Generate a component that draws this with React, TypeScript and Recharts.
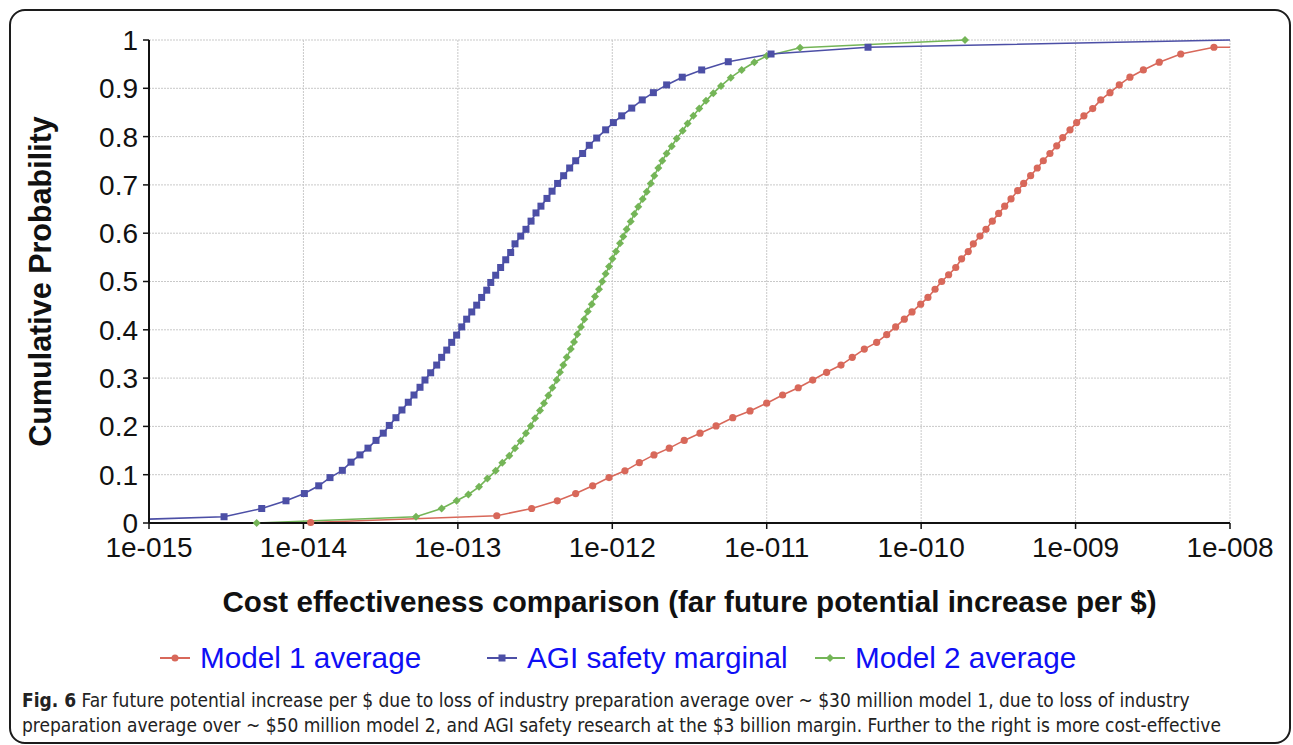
import React from 'react';
import { LineChart, Line, XAxis, YAxis, CartesianGrid, Legend } from 'recharts';

// ---- data (x stored as log10 of cost effectiveness, y = cumulative probability) ----
const MODEL1_EXP = [-15, -13.953, -12.748, -12.522, -12.356, -12.237, -12.127, -12.021, -11.918, -11.825,
  -11.730, -11.631, -11.534, -11.432, -11.328, -11.220, -11.108, -11.000, -10.897, -10.796,
  -10.702, -10.612, -10.519, -10.446, -10.368, -10.288, -10.223, -10.165, -10.109, -10.059,
  -10.003, -9.956, -9.910, -9.867, -9.822, -9.776, -9.738, -9.695, -9.662, -9.619,
  -9.580, -9.539, -9.498, -9.459, -9.418, -9.375, -9.336, -9.291, -9.248, -9.209,
  -9.166, -9.122, -9.083, -9.036, -8.993, -8.946, -8.889, -8.837, -8.777, -8.717,
  -8.648, -8.561, -8.458, -8.319, -8.104, -8.0];
const MODEL1_P = [0.0, 0.001, 0.015, 0.030, 0.046, 0.061, 0.077, 0.094, 0.108, 0.125,
  0.141, 0.155, 0.171, 0.186, 0.201, 0.218, 0.232, 0.248, 0.265, 0.280,
  0.296, 0.312, 0.327, 0.343, 0.360, 0.374, 0.390, 0.406, 0.422, 0.437,
  0.453, 0.467, 0.484, 0.500, 0.514, 0.529, 0.547, 0.562, 0.578, 0.594,
  0.608, 0.625, 0.641, 0.656, 0.671, 0.688, 0.703, 0.719, 0.735, 0.750,
  0.765, 0.781, 0.798, 0.814, 0.829, 0.843, 0.858, 0.876, 0.891, 0.907,
  0.923, 0.938, 0.954, 0.971, 0.985, 0.985];

const AGI_EXP = [-15, -14.514, -14.270, -14.113, -13.994, -13.901, -13.828, -13.748, -13.692, -13.634,
  -13.582, -13.530, -13.483, -13.444, -13.401, -13.362, -13.321, -13.284, -13.245, -13.213,
  -13.176, -13.137, -13.105, -13.072, -13.040, -13.008, -12.975, -12.943, -12.910, -12.878,
  -12.846, -12.813, -12.787, -12.755, -12.723, -12.690, -12.658, -12.630, -12.593, -12.559,
  -12.526, -12.494, -12.462, -12.423, -12.390, -12.354, -12.315, -12.276, -12.237, -12.192,
  -12.149, -12.101, -12.043, -11.993, -11.939, -11.874, -11.806, -11.734, -11.648, -11.547,
  -11.421, -11.249, -10.972, -10.344, -8.0];
const AGI_P = [0.008, 0.013, 0.030, 0.046, 0.061, 0.077, 0.094, 0.109, 0.126, 0.141,
  0.155, 0.171, 0.186, 0.202, 0.218, 0.234, 0.250, 0.265, 0.281, 0.296,
  0.311, 0.327, 0.343, 0.358, 0.374, 0.389, 0.406, 0.422, 0.437, 0.451,
  0.467, 0.482, 0.498, 0.513, 0.529, 0.545, 0.560, 0.578, 0.594, 0.608,
  0.625, 0.642, 0.656, 0.672, 0.687, 0.703, 0.719, 0.735, 0.750, 0.765,
  0.782, 0.797, 0.814, 0.829, 0.843, 0.859, 0.876, 0.891, 0.907, 0.923,
  0.938, 0.955, 0.971, 0.985, 1.0];

const MODEL2_EXP = [-14.303, -13.271, -13.105, -13.008, -12.932, -12.863, -12.809, -12.755, -12.712, -12.667,
  -12.630, -12.593, -12.559, -12.528, -12.500, -12.468, -12.442, -12.414, -12.388, -12.360,
  -12.339, -12.317, -12.295, -12.269, -12.248, -12.227, -12.203, -12.181, -12.159, -12.133,
  -12.112, -12.086, -12.065, -12.043, -12.021, -11.999, -11.976, -11.950, -11.929, -11.907,
  -11.881, -11.857, -11.832, -11.803, -11.777, -11.751, -11.728, -11.702, -11.676, -11.648,
  -11.615, -11.583, -11.544, -11.512, -11.475, -11.437, -11.393, -11.346, -11.296, -11.233,
  -11.162, -11.080, -11.000, -10.784, -9.716];
const MODEL2_P = [0.0, 0.013, 0.030, 0.046, 0.059, 0.075, 0.092, 0.108, 0.125, 0.139,
  0.155, 0.170, 0.186, 0.201, 0.217, 0.233, 0.248, 0.264, 0.280, 0.296,
  0.312, 0.327, 0.343, 0.360, 0.375, 0.391, 0.406, 0.422, 0.438, 0.453,
  0.469, 0.484, 0.500, 0.516, 0.531, 0.547, 0.562, 0.579, 0.593, 0.608,
  0.624, 0.640, 0.655, 0.671, 0.686, 0.703, 0.719, 0.735, 0.750, 0.765,
  0.780, 0.796, 0.812, 0.827, 0.843, 0.858, 0.874, 0.890, 0.905, 0.922,
  0.938, 0.954, 0.967, 0.984, 1.0];

const X_TICK_EXP = [-15, -14, -13, -12, -11, -10, -9, -8];
const X_TICK_LABELS = ['1e-015', '1e-014', '1e-013', '1e-012', '1e-011', '1e-010', '1e-009', '1e-008'];
const Y_TICK_LABELS = ['0', '0.1', '0.2', '0.3', '0.4', '0.5', '0.6', '0.7', '0.8', '0.9', '1'];

const SERIES_NAMES = ['Model 1 average', 'AGI safety marginal', 'Model 2 average'];

const X_MIN = Math.pow(10, X_TICK_EXP[0]);
const X_MAX = Math.pow(10, X_TICK_EXP[X_TICK_EXP.length - 1]);

const build = (exps: number[], ps: number[]) => exps.map((e, i) => ({ x: Math.pow(10, e), e, y: ps[i] }));
const model1Data = build(MODEL1_EXP, MODEL1_P);
const agiData = build(AGI_EXP, AGI_P);
const model2Data = build(MODEL2_EXP, MODEL2_P);

const xTicks = X_TICK_EXP.map((e) => Math.pow(10, e));
const yTicks = Y_TICK_LABELS.map((s) => parseFloat(s));

const RED = '#d8685a';
const BLUE = '#4c4fa6';
const GREEN = '#74b557';
const FONT = '"Liberation Sans", Arial, Helvetica, sans-serif';

const atEdge = (p: any) => p && (p.e <= X_TICK_EXP[0] + 1e-6 || p.e >= X_TICK_EXP[X_TICK_EXP.length - 1] - 1e-6);

const circleDot = (props: any) => {
  const { cx, cy, payload, index } = props;
  if (cx == null || cy == null || atEdge(payload)) return <g key={`c${index}`} />;
  return <circle key={`c${index}`} cx={cx} cy={cy} r={3.6} fill={RED} />;
};
const squareDot = (props: any) => {
  const { cx, cy, payload, index } = props;
  if (cx == null || cy == null || atEdge(payload)) return <g key={`s${index}`} />;
  return <rect key={`s${index}`} x={cx - 3.5} y={cy - 3.5} width={7} height={7} fill={BLUE} />;
};
const diamondDot = (props: any) => {
  const { cx, cy, payload, index } = props;
  if (cx == null || cy == null || atEdge(payload)) return <g key={`d${index}`} />;
  const r = 4;
  return (
    <polygon
      key={`d${index}`}
      points={`${cx},${cy - r} ${cx + r},${cy} ${cx},${cy + r} ${cx - r},${cy}`}
      fill={GREEN}
    />
  );
};

const YTitle = (props: any) => {
  const vb = props.viewBox || { x: 0, y: 40, width: 149, height: 483 };
  const cx = vb.x + 40;
  const cy = vb.y + vb.height / 2;
  return (
    <text
      x={cx}
      y={cy}
      transform={`rotate(-90 ${cx} ${cy})`}
      textAnchor="middle"
      dominantBaseline="central"
      fontFamily={FONT}
      fontWeight="bold"
      fontSize={30.5}
      fill="#111"
    >
      Cumulative Probability
    </text>
  );
};

const XTitle = (props: any) => {
  const vb = props.viewBox || { x: 149, y: 523, width: 1081, height: 110 };
  const cx = vb.x + vb.width / 2;
  const cy = vb.y + 78;
  return (
    <text
      x={cx}
      y={cy}
      textAnchor="middle"
      dominantBaseline="central"
      fontFamily={FONT}
      fontWeight="bold"
      fontSize={29.6}
      fill="#111"
    >
      Cost effectiveness comparison (far future potential increase per $)
    </text>
  );
};

const LEGEND_LEFTS = [160, 487, 815];
const LEGEND_COLORS = [RED, BLUE, GREEN];

const LegendIcon = ({ i }: { i: number }) => {
  const c = LEGEND_COLORS[i];
  return (
    <svg width={30} height={14} style={{ display: 'block' }}>
      <line x1={0} y1={7} x2={30} y2={7} stroke={c} strokeWidth={2} />
      {i === 0 && <circle cx={15} cy={7} r={3.5} fill={c} />}
      {i === 1 && <rect x={11.5} y={3.5} width={7} height={7} fill={c} />}
      {i === 2 && <polygon points="15,3 19,7 15,11 11,7" fill={c} />}
    </svg>
  );
};

const renderLegend = () => (
  <div style={{ position: 'relative', width: 1293, height: 40 }}>
    {SERIES_NAMES.map((name, i) => (
      <div
        key={name}
        style={{
          position: 'absolute',
          left: LEGEND_LEFTS[i],
          top: 0,
          height: 40,
          display: 'flex',
          alignItems: 'center',
        }}
      >
        <LegendIcon i={i} />
        <span style={{ marginLeft: 10, fontFamily: FONT, fontSize: 29.7, color: '#0f0ff5', whiteSpace: 'nowrap' }}>
          {name}
        </span>
      </div>
    ))}
  </div>
);

const xLabel = (v: number) => {
  const e = Math.round(Math.log10(v));
  const idx = X_TICK_EXP.indexOf(e);
  return idx >= 0 ? X_TICK_LABELS[idx] : '';
};
const yLabel = (v: number) => {
  const idx = yTicks.findIndex((t) => Math.abs(t - v) < 1e-9);
  return idx >= 0 ? Y_TICK_LABELS[idx] : '';
};

export default function App() {
  return (
    <div style={{ position: 'absolute', left: 0, top: 0, width: 1293, height: 745, background: '#fff', fontFamily: FONT, overflow: 'hidden' }}>
      <div
        style={{
          position: 'absolute',
          left: 9,
          top: 9,
          width: 1282,
          height: 735,
          border: '2px solid #1c1c1c',
          borderRadius: 16,
          boxSizing: 'border-box',
        }}
      />
      <div style={{ position: 'absolute', left: 0, top: 0 }}>
        <LineChart width={1293} height={745} margin={{ top: 40, right: 63, bottom: 112, left: 0 }}>
          <CartesianGrid stroke="#c9c9c9" strokeDasharray="2 1" strokeWidth={1} />
          <XAxis
            type="number"
            dataKey="x"
            scale="log"
            domain={[X_MIN, X_MAX]}
            ticks={xTicks}
            allowDataOverflow
            interval={0}
            tickFormatter={xLabel}
            tick={{ fontSize: 28, fill: '#111', fontFamily: FONT }}
            tickSize={6}
            tickMargin={8}
            axisLine={{ stroke: '#111', strokeWidth: 2 }}
            tickLine={{ stroke: '#111', strokeWidth: 1.5 }}
            height={110}
            label={<XTitle />}
          />
          <YAxis
            type="number"
            domain={[0, 1]}
            ticks={yTicks}
            interval={0}
            tickFormatter={yLabel}
            tick={{ fontSize: 28, fill: '#111', fontFamily: FONT }}
            tickSize={6}
            tickMargin={5}
            axisLine={{ stroke: '#111', strokeWidth: 2 }}
            tickLine={{ stroke: '#111', strokeWidth: 1.5 }}
            width={149}
            label={<YTitle />}
          />
          <Legend
            verticalAlign="middle"
            align="center"
            layout="horizontal"
            content={renderLegend}
            wrapperStyle={{ position: 'absolute', top: 638, left: 0, width: 1293, height: 40 }}
          />
          <Line
            name={SERIES_NAMES[0]}
            data={model1Data}
            dataKey="y"
            type="linear"
            stroke={RED}
            strokeWidth={1.6}
            dot={circleDot}
            activeDot={false}
            isAnimationActive={false}
          />
          <Line
            name={SERIES_NAMES[2]}
            data={model2Data}
            dataKey="y"
            type="linear"
            stroke={GREEN}
            strokeWidth={1.6}
            dot={diamondDot}
            activeDot={false}
            isAnimationActive={false}
          />
          <Line
            name={SERIES_NAMES[1]}
            data={agiData}
            dataKey="y"
            type="linear"
            stroke={BLUE}
            strokeWidth={1.6}
            dot={squareDot}
            activeDot={false}
            isAnimationActive={false}
          />
        </LineChart>
      </div>
      <div
        style={{
          position: 'absolute',
          left: 22,
          top: 688,
          width: 1260,
          fontFamily: '"DejaVu Sans Condensed", "Liberation Sans", sans-serif',
          fontSize: 19,
          lineHeight: '25px',
          color: '#222',
          whiteSpace: 'nowrap',
        }}
      >
        <b>Fig. 6</b> Far future potential increase per $ due to loss of industry preparation average over ~ $30 million model 1, due to loss of industry
        <br />
        preparation average over ~ $50 million model 2, and AGI safety research at the $3 billion margin. Further to the right is more cost-effective
      </div>
    </div>
  );
}
